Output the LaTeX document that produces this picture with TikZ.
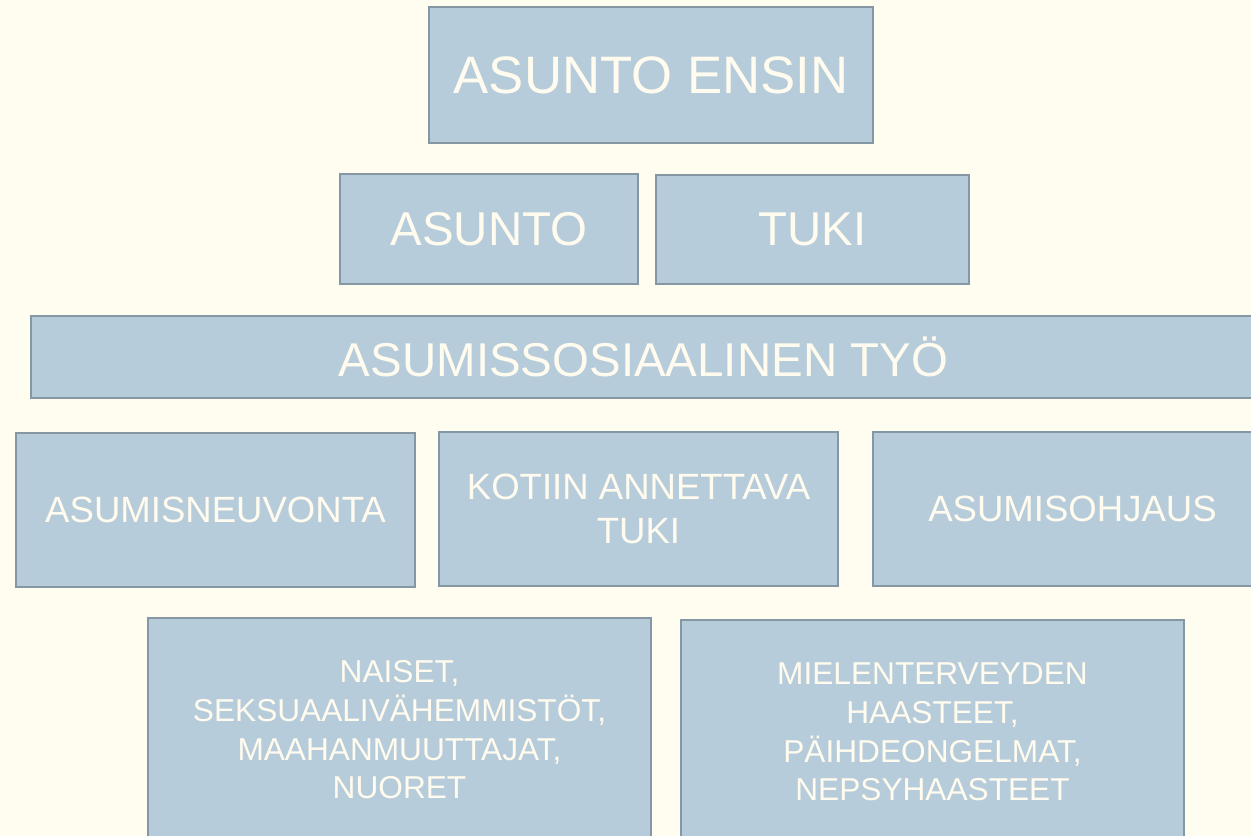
\documentclass[tikz,border=0pt]{standalone}
\usepackage{fontspec}
\setmainfont{Liberation Sans}
\definecolor{tausta}{HTML}{FFFCF0}
\definecolor{laatikko}{HTML}{B7CCDA}
\definecolor{reuna}{HTML}{8597A3}
\definecolor{teksti}{HTML}{FFFBEE}
\tikzset{
    lohko/.style={draw=reuna, fill=laatikko, line width=1.1pt, rectangle,
        inner sep=0pt, align=center, text=teksti},
    iso/.style={font=\fontsize{30}{36}\selectfont},
    keski/.style={font=\fontsize{27}{32}\selectfont},
    pieni/.style={font=\fontsize{20.8}{25}\selectfont},
    pienin/.style={font=\fontsize{18}{22}\selectfont}
}
\begin{document}
\begin{tikzpicture}
        % Tausta
        \fill[tausta] (0,0) rectangle (25.02,-16.72);
        \useasboundingbox (0,0) rectangle (25.02,-16.72);
        \clip (0,0) rectangle (25.02,-16.72);

        % Ylin taso
        \node[lohko, iso, minimum width=8.88cm, minimum height=2.72cm] (ensin) at (13.02,-1.5) {ASUNTO ENSIN};

        % Asunto ja tuki
        \node[lohko, keski, minimum width=5.96cm, minimum height=2.2cm] (asunto) at (9.78,-4.58) {ASUNTO};
        \node[lohko, keski, minimum width=6.26cm, minimum height=2.18cm] (tuki) at (16.25,-4.59) {TUKI};

        % Asumissosiaalinen tyo
        \node[lohko, keski, minimum width=24.5cm, minimum height=1.64cm] (tyo) at (12.87,-7.14) {ASUMISSOSIAALINEN TYÖ};

        % Palvelut
        \node[lohko, pieni, minimum width=7.98cm, minimum height=3.08cm] (neuvonta) at (4.31,-10.2) {ASUMISNEUVONTA};
        \node[lohko, pieni, minimum width=7.98cm, minimum height=3.08cm] (kotiin) at (12.77,-10.18) {KOTIIN ANNETTAVA\\TUKI};
        \node[lohko, pieni, minimum width=7.98cm, minimum height=3.08cm] (ohjaus) at (21.45,-10.18) {ASUMISOHJAUS};

        % Kohderyhmat
        \node[lohko, pienin, minimum width=10.06cm, minimum height=4.48cm] (naiset) at (7.99,-14.6)
            {NAISET,\\SEKSUAALIVÄHEMMISTÖT,\\MAAHANMUUTTAJAT,\\NUORET};
        \node[lohko, pienin, minimum width=10.06cm, minimum height=4.48cm] (mielen) at (18.65,-14.64)
            {MIELENTERVEYDEN\\HAASTEET,\\PÄIHDEONGELMAT,\\NEPSYHAASTEET};
    \end{tikzpicture}
\end{document}
